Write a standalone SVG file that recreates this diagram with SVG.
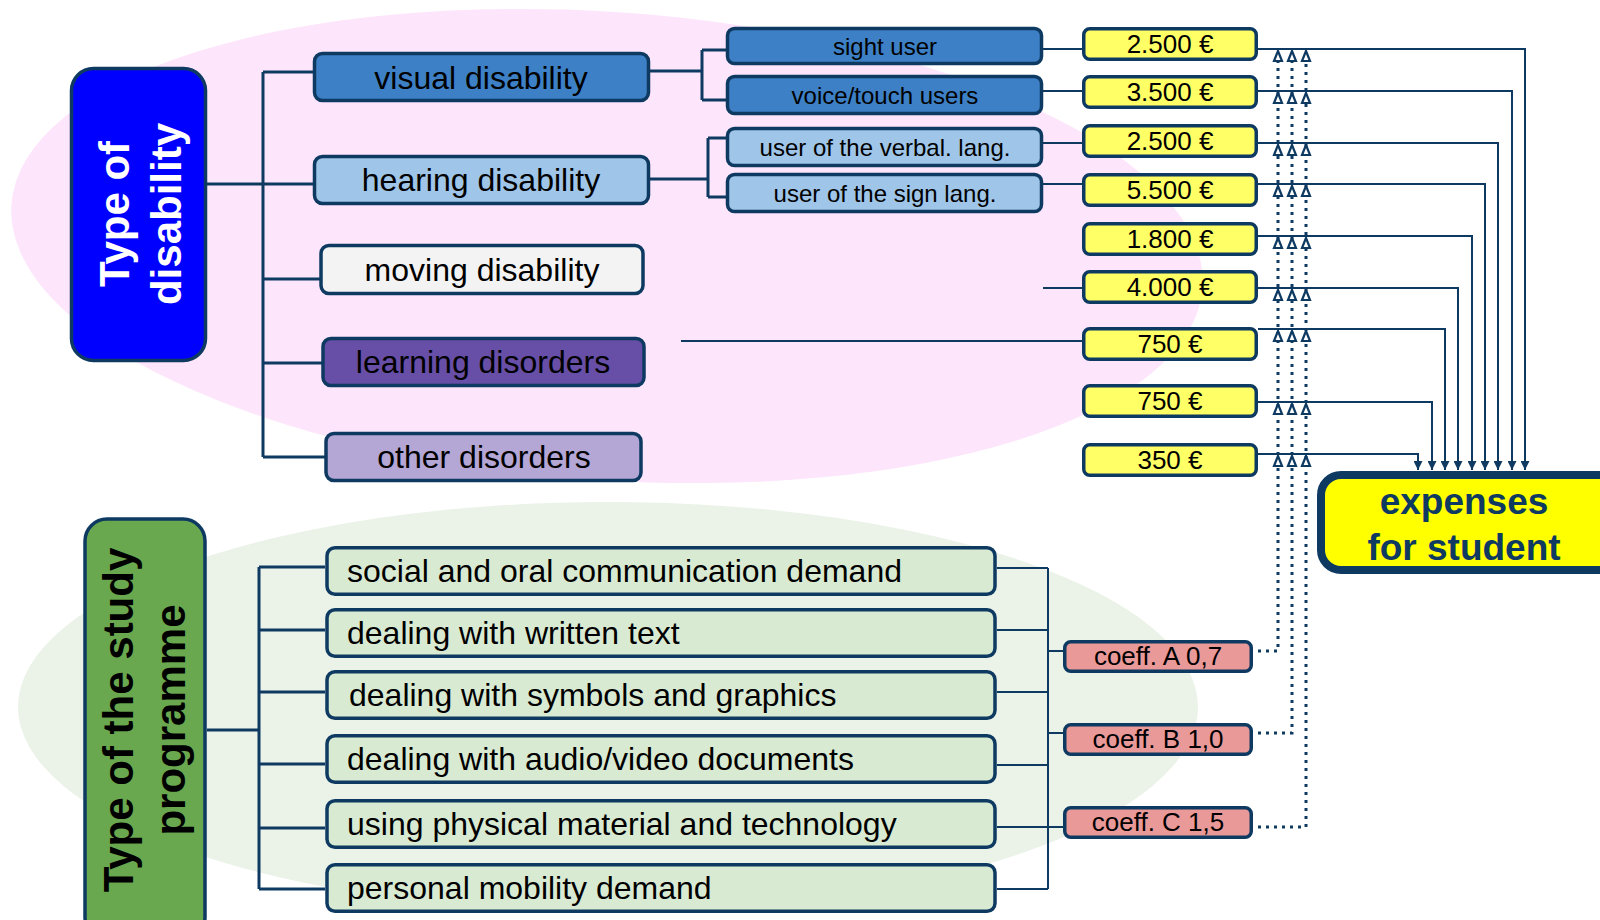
<svg xmlns="http://www.w3.org/2000/svg" width="1600" height="920" viewBox="0 0 1600 920">
<defs>
<style>
.bx{stroke:#0E3A62;stroke-width:3.5}
.ln{fill:none;stroke:#0E3A62;stroke-width:3}
.rl{fill:none;stroke:#0E3A62;stroke-width:2}
.dt{fill:none;stroke:#0E3A62;stroke-width:3;stroke-dasharray:3 5}
.t32{font-family:"Liberation Sans",Arial,sans-serif;font-size:32px;fill:#000}
.t24{font-family:"Liberation Sans",Arial,sans-serif;font-size:24px;fill:#000;text-anchor:middle}
.t26{font-family:"Liberation Sans",Arial,sans-serif;font-size:26px;fill:#000;text-anchor:middle}
.big{font-family:"Liberation Sans",Arial,sans-serif;font-size:42px;font-weight:bold;text-anchor:middle}
.mid{text-anchor:middle}
.yel{fill:#FFFF66}
.grn{fill:#D9EAD3}
.cof{fill:#EA9999}
</style>
<marker id="ah" viewBox="0 0 10 10" refX="10" refY="5" markerWidth="9" markerHeight="9" markerUnits="userSpaceOnUse" orient="auto">
<path d="M0,0 L10,5 L0,10 Z" fill="#0E3A62"/>
</marker>
<path id="ha" d="M0,0 L-4,10 L4,10 Z" fill="#fff" stroke="#0E3A62" stroke-width="2.2" stroke-linejoin="miter"/>
</defs>

<g id="background">
<ellipse cx="607" cy="246" rx="597" ry="234" transform="rotate(4 607 246)" fill="#FDE6FB"/>
<ellipse cx="608" cy="707" rx="590" ry="205" fill="#EBF3E8"/>
</g>

<g id="connectors">
<path class="ln" d="M207,184 H263 M263,72 V457 M263,72 H313 M263,184 H313 M263,279 H320 M263,363 H322 M263,457 H325"/>
<path class="ln" d="M650,71 H702 M702,50 V100 M702,50 H726 M702,100 H726"/>
<path class="ln" d="M650,179 H708 M708,138 V197 M708,138 H726 M708,197 H726"/>
<path class="rl" d="M1043,49 H1082 M1043,91 H1082 M1043,143 H1082 M1043,184 H1082 M1043,288 H1082 M681,341 H1082"/>
<path class="rl" marker-end="url(#ah)" d="M1258,49 H1525 V470"/>
<path class="rl" marker-end="url(#ah)" d="M1258,91 H1512 V470"/>
<path class="rl" marker-end="url(#ah)" d="M1258,143 H1498 V470"/>
<path class="rl" marker-end="url(#ah)" d="M1258,184 H1485 V470"/>
<path class="rl" marker-end="url(#ah)" d="M1258,236 H1472 V470"/>
<path class="rl" marker-end="url(#ah)" d="M1258,288 H1458 V470"/>
<path class="rl" marker-end="url(#ah)" d="M1258,329 H1445 V470"/>
<path class="rl" marker-end="url(#ah)" d="M1258,402 H1432 V470"/>
<path class="rl" marker-end="url(#ah)" d="M1258,454 H1418 V470"/>
<path class="ln" d="M207,730 H259 M259,567 V889 M259,567 H325 M259,630 H325 M259,692 H325 M259,764 H325 M259,828 H325 M259,889 H325"/>
<path class="rl" d="M997,568 H1048 M997,630 H1048 M997,692 H1048 M997,765 H1048 M997,827 H1063 M997,889 H1048 M1048,568 V889 M1048,651 H1063 M1048,733 H1063"/>
<path class="dt" d="M1258,651 H1278 V62"/>
<path class="dt" d="M1258,733 H1292 V62"/>
<path class="dt" d="M1258,827 H1306 V62"/>
<g id="hollow-arrows">
<use href="#ha" x="1278" y="51"/><use href="#ha" x="1292" y="51"/><use href="#ha" x="1306" y="51"/>
<use href="#ha" x="1278" y="93"/><use href="#ha" x="1292" y="93"/><use href="#ha" x="1306" y="93"/>
<use href="#ha" x="1278" y="145"/><use href="#ha" x="1292" y="145"/><use href="#ha" x="1306" y="145"/>
<use href="#ha" x="1278" y="186"/><use href="#ha" x="1292" y="186"/><use href="#ha" x="1306" y="186"/>
<use href="#ha" x="1278" y="238"/><use href="#ha" x="1292" y="238"/><use href="#ha" x="1306" y="238"/>
<use href="#ha" x="1278" y="290"/><use href="#ha" x="1292" y="290"/><use href="#ha" x="1306" y="290"/>
<use href="#ha" x="1278" y="331"/><use href="#ha" x="1292" y="331"/><use href="#ha" x="1306" y="331"/>
<use href="#ha" x="1278" y="404"/><use href="#ha" x="1292" y="404"/><use href="#ha" x="1306" y="404"/>
<use href="#ha" x="1278" y="456"/><use href="#ha" x="1292" y="456"/><use href="#ha" x="1306" y="456"/>
</g>
</g>

<g id="type-of-disability">
<rect class="bx" x="71.5" y="68.5" width="134" height="292" rx="22" fill="#0000FF"/>
<g transform="translate(129,214) rotate(-90)">
<text class="big" x="0" y="0" fill="#fff">Type of</text>
<text class="big" x="0" y="52" fill="#fff">disability</text>
</g>
</g>

<g id="visual-disability">
<rect class="bx" x="314.5" y="53.5" width="334" height="47" rx="8" fill="#3D80C6"/>
<text class="t32 mid" x="481" y="89">visual disability</text>
</g>
<g id="hearing-disability">
<rect class="bx" x="314.5" y="156.5" width="334" height="47" rx="8" fill="#9FC5E8"/>
<text class="t32 mid" x="481" y="191">hearing disability</text>
</g>
<g id="moving-disability">
<rect class="bx" x="321" y="245.5" width="322" height="48" rx="8" fill="#F3F3F3"/>
<text class="t32 mid" x="482" y="281">moving disability</text>
</g>
<g id="learning-disorders">
<rect class="bx" x="323" y="338.5" width="321" height="47" rx="8" fill="#674EA7"/>
<text class="t32 mid" x="483" y="373">learning disorders</text>
</g>
<g id="other-disorders">
<rect class="bx" x="326" y="433.5" width="315" height="47" rx="8" fill="#B4A7D6"/>
<text class="t32 mid" x="484" y="468">other disorders</text>
</g>

<g id="sight-user">
<rect class="bx" x="727.5" y="28.5" width="314" height="35" rx="7" fill="#3D80C6"/>
<text class="t24" x="885" y="55">sight user</text>
</g>
<g id="voice-touch-users">
<rect class="bx" x="727.5" y="76.5" width="314" height="37" rx="7" fill="#3D80C6"/>
<text class="t24" x="885" y="104">voice/touch users</text>
</g>
<g id="verbal-lang">
<rect class="bx" x="727.5" y="128.5" width="314" height="37" rx="7" fill="#9FC5E8"/>
<text class="t24" x="885" y="156">user of the verbal. lang.</text>
</g>
<g id="sign-lang">
<rect class="bx" x="727.5" y="174.5" width="314" height="37" rx="7" fill="#9FC5E8"/>
<text class="t24" x="885" y="202">user of the sign lang.</text>
</g>

<g id="cost-1"><rect class="bx yel" x="1083.75" y="28.75" width="172.5" height="30.5" rx="6"/><text class="t26" x="1170" y="53">2.500 €</text></g>
<g id="cost-2"><rect class="bx yel" x="1083.75" y="76.75" width="172.5" height="30.5" rx="6"/><text class="t26" x="1170" y="101">3.500 €</text></g>
<g id="cost-3"><rect class="bx yel" x="1083.75" y="125.75" width="172.5" height="30.5" rx="6"/><text class="t26" x="1170" y="150">2.500 €</text></g>
<g id="cost-4"><rect class="bx yel" x="1083.75" y="174.75" width="172.5" height="30.5" rx="6"/><text class="t26" x="1170" y="199">5.500 €</text></g>
<g id="cost-5"><rect class="bx yel" x="1083.75" y="223.75" width="172.5" height="30.5" rx="6"/><text class="t26" x="1170" y="248">1.800 €</text></g>
<g id="cost-6"><rect class="bx yel" x="1083.75" y="271.75" width="172.5" height="30.5" rx="6"/><text class="t26" x="1170" y="296">4.000 €</text></g>
<g id="cost-7"><rect class="bx yel" x="1083.75" y="328.75" width="172.5" height="30.5" rx="6"/><text class="t26" x="1170" y="353">750 €</text></g>
<g id="cost-8"><rect class="bx yel" x="1083.75" y="385.75" width="172.5" height="30.5" rx="6"/><text class="t26" x="1170" y="410">750 €</text></g>
<g id="cost-9"><rect class="bx yel" x="1083.75" y="444.75" width="172.5" height="30.5" rx="6"/><text class="t26" x="1170" y="469">350 €</text></g>

<g id="expenses-for-student">
<rect x="1321" y="475" width="300" height="95" rx="20" fill="#FFFF00" stroke="#0E3A62" stroke-width="8"/>
<text x="1464" y="514" font-family="'Liberation Sans',Arial,sans-serif" font-size="37" font-weight="bold" fill="#0E3A62" text-anchor="middle">expenses</text>
<text x="1464" y="560" font-family="'Liberation Sans',Arial,sans-serif" font-size="37" font-weight="bold" fill="#0E3A62" text-anchor="middle">for student</text>
</g>

<g id="type-of-study-programme">
<rect class="bx" x="85" y="519" width="120" height="420" rx="22" fill="#6AA84F"/>
<g transform="translate(133,720) rotate(-90)">
<text class="big" x="0" y="0" fill="#000">Type of the study</text>
<text class="big" x="0" y="52" fill="#000">programme</text>
</g>
</g>

<g id="social-oral"><rect class="bx grn" x="327" y="547.75" width="668" height="46.5" rx="8"/><text class="t32" x="347" y="582">social and oral communication demand</text></g>
<g id="written-text"><rect class="bx grn" x="327" y="609.75" width="668" height="46.5" rx="8"/><text class="t32" x="347" y="644">dealing with written text</text></g>
<g id="symbols-graphics"><rect class="bx grn" x="327" y="671.75" width="668" height="46.5" rx="8"/><text class="t32" x="349" y="706">dealing with symbols and graphics</text></g>
<g id="audio-video"><rect class="bx grn" x="327" y="735.75" width="668" height="46.5" rx="8"/><text class="t32" x="347" y="770">dealing with audio/video documents</text></g>
<g id="physical-material"><rect class="bx grn" x="327" y="800.75" width="668" height="46.5" rx="8"/><text class="t32" x="347" y="835">using physical material and technology</text></g>
<g id="personal-mobility"><rect class="bx grn" x="327" y="864.75" width="668" height="46.5" rx="8"/><text class="t32" x="347" y="899">personal mobility demand</text></g>

<g id="coeff-a"><rect class="bx cof" x="1064.75" y="641.75" width="186.5" height="29.5" rx="6"/><text class="t26" x="1158" y="665">coeff. A 0,7</text></g>
<g id="coeff-b"><rect class="bx cof" x="1064.75" y="724.75" width="186.5" height="29.5" rx="6"/><text class="t26" x="1158" y="748">coeff. B 1,0</text></g>
<g id="coeff-c"><rect class="bx cof" x="1064.75" y="807.75" width="186.5" height="29.5" rx="6"/><text class="t26" x="1158" y="831">coeff. C 1,5</text></g>
</svg>
